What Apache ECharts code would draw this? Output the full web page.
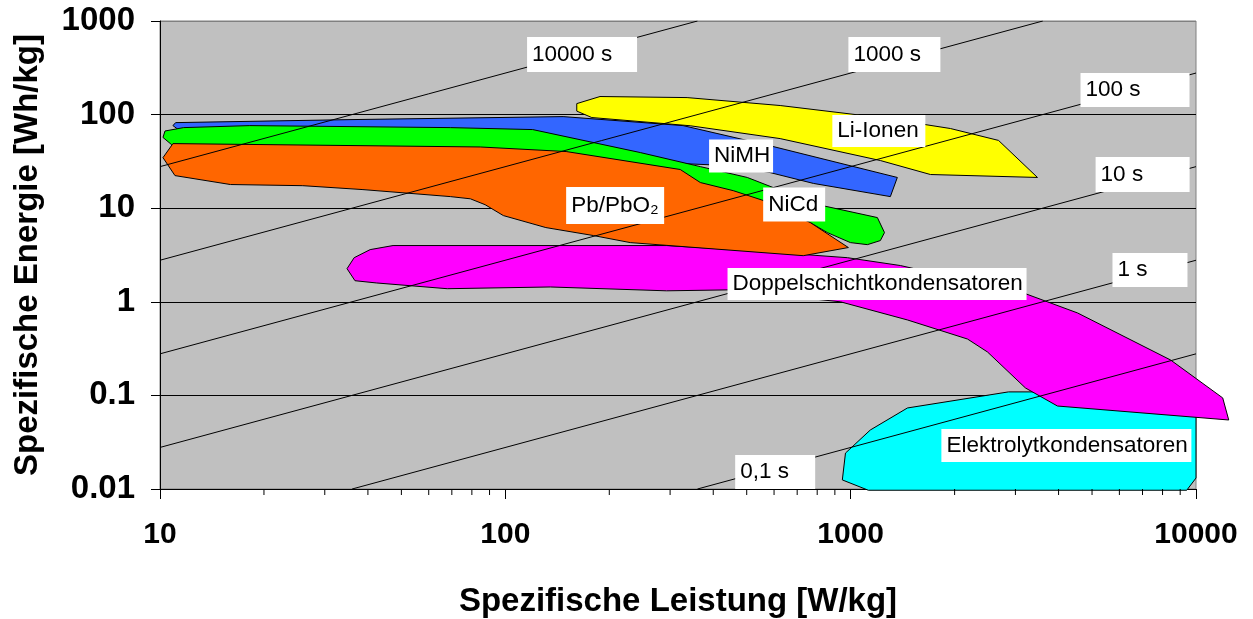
<!DOCTYPE html>
<html><head><meta charset="utf-8">
<script src="https://cdn.jsdelivr.net/npm/echarts@6/dist/echarts.min.js"></script>
<style>html,body{margin:0;padding:0;background:#fff}#c{width:1253px;height:619px}</style>
</head><body><div id="c"></div>
<script>
// ---- data ----
const xTickLabels = ['10', '100', '1000', '10000'];
const yTickLabels = ['0.01', '0.1', '1', '10', '100', '1000'];
const xMinorTicks = [20,30,40,50,60,70,80,90,200,300,400,500,600,700,800,900,2000,3000,4000,5000,6000,7000,8000,9000];

// constant discharge-time lines (endpoints)
const line10000s = [[10, 27.8], [360, 1000]];
const line1000s  = [[10, 2.78], [3600, 1000]];
const line100s   = [[10, 0.278], [10000, 278]];
const line10s    = [[10, 0.0278], [10000, 27.8]];
const line1s     = [[36, 0.01], [10000, 2.78]];
const line01s    = [[360, 0.01], [10000, 0.278]];

// regions [W/kg, Wh/kg]
const elektrolyt = [[946,0.0125],[966,0.0242],[1140,0.0427],[1460,0.0734],[2864,0.109],[3430,0.109],[4630,0.079],[10000,0.079],[10000,0.0131],[9400,0.0097],[1125,0.0097]];
const doppelschicht = [[34.8,2.26],[36.5,2.96],[40.6,3.61],[47.3,3.99],[293,3.99],[512,3.52],[978,2.96],[1393,2.44],[3208,1.22],[4540,0.76],[8440,0.239],[11950,0.094],[12440,0.0546],[3970,0.077],[3208,0.12],[2490,0.291],[2180,0.40],[1460,0.64],[934,1.0],[440,1.34],[293,1.31],[135,1.44],[67.9,1.38],[42.3,1.59],[36.7,1.68]];
const nimh = [[10.9,76.3],[11.1,82.1],[35.5,88.4],[147,95.2],[327,76.3],[585,46.4],[1365,21.3],[1303,13.3],[780,18.4],[585,24.0],[448,28.5],[321,30.0],[246,36.5],[120,65.8],[56.7,69.2],[11.4,67.5]];
const nicd = [[10.34,66.8],[11.7,72.6],[18.2,76.3],[69.3,72.6],[120,69.2],[246,39.3],[367,27.8],[502,21.3],[597,16.6],[834,10.6],[1195,7.94],[1253,5.49],[1219,4.51],[1118,4.08],[998,4.29],[856,5.49],[764,7.02],[558,10.6],[457,13.6],[367,17.0],[321,24.0],[151,36.5],[84.6,41.3],[11.05,43.3],[10.8,47.8],[10.2,57]];
const pbpbo2 = [[10.9,49],[84.6,45.1],[150,40.3],[321,25.9],[367,18.8],[457,15.4],[558,12.1],[764,7.02],[985,3.80],[729,3.11],[230,4.29],[180,5.10],[131,6.21],[98.7,8.34],[87.4,10.9],[79.2,12.6],[69.3,13.3],[38.7,15.8],[25.9,17.4],[16,17.9],[11.05,22.3],[10.2,34.7]];
const liIonen = [[161,131],[188,156],[336,152],[625,125],[1219,93],[1945,71],[2680,53],[3475,21.3],[1702,22.9],[1219,32.3],[625,55.4],[343,76],[178,93],[161,109]];

const annotationNames = ['10000 s','1000 s','100 s','10 s','1 s','0,1 s','Li-Ionen','NiMH','NiCd','Pb/PbO\u2082','Doppelschichtkondensatoren','Elektrolytkondensatoren'];
const annotationAnchors = [[115.6,438],[985,438],[4630,183],[5120,22.9],[5730,2.19],[463,0.0152],[885,66.8],[389,36.1],[558,10.95],[150,10.7],[440,1.55],[1831,0.0291]];

// ---- styles ----
const FONT = '"Liberation Sans", Arial, sans-serif';
const boxSizes = {
  '10000 s':[110,35],'1000 s':[92,35],'100 s':[109,34],'10 s':[94,35],'1 s':[75,34],'0,1 s':[80,34],
  'Li-Ionen':[93,32],'NiMH':[64,33],'NiCd':[62,34],'Pb/PbO\u2082':[98,37],
  'Doppelschichtkondensatoren':[299,32],'Elektrolytkondensatoren':[250,33]
};

function polygonSeries(name, pts, color) {
  return {
    type: 'custom', name, coordinateSystem: 'cartesian2d', clip: false, silent: true,
    data: pts,
    renderItem: (params, api) => {
      if (params.dataIndex !== 0) return;
      const points = pts.map(p => api.coord(p));
      return { type: 'polygon', shape: { points }, style: { fill: color, stroke: '#000', lineWidth: 1 } };
    }
  };
}
function timeLine(pts) {
  return { type: 'line', data: pts, symbol: 'none', silent: true, lineStyle: { color: '#000', width: 1 } };
}

const chart = echarts.init(document.getElementById('c'), null, { renderer: 'canvas' });
chart.setOption({
  animation: false,
  backgroundColor: '#fff',
  textStyle: { fontFamily: FONT },
  grid: { left: 160, right: 57, top: 21, bottom: 130, show: true, backgroundColor: '#C0C0C0',
          borderColor: '#808080', borderWidth: 1, containLabel: false, outerBoundsMode: 'none' },
  xAxis: {
    type: 'log', logBase: 10, min: 10, max: 10000,
    axisLine: { show: true, lineStyle: { color: '#000', width: 1 } },
    axisTick: { show: true, length: 10, inside: false, lineStyle: { color: '#000' } },
    axisLabel: { formatter: v => xTickLabels[Math.round(Math.log10(v)) - 1], fontSize: 30, fontWeight: 'bold',
                 color: '#000', margin: 31, fontFamily: FONT },
    splitLine: { show: false },
    name: 'Spezifische Leistung [W/kg]', nameLocation: 'middle', nameGap: 96,
    nameTextStyle: { fontSize: 33, fontWeight: 'bold', color: '#000', fontFamily: FONT }
  },
  yAxis: {
    type: 'log', logBase: 10, min: 0.01, max: 1000,
    axisLine: { show: true, lineStyle: { color: '#000', width: 1 } },
    axisTick: { show: true, length: 9, inside: false, lineStyle: { color: '#000' } },
    axisLabel: { formatter: v => yTickLabels[Math.round(Math.log10(v)) + 2], fontSize: 33, fontWeight: 'bold',
                 color: '#000', margin: 25, fontFamily: FONT },
    splitLine: { show: true, lineStyle: { color: ['#000','#000','#000','#000','#000','#808080'], width: 1 } },
    name: 'Spezifische Energie [Wh/kg]', nameLocation: 'middle', nameGap: 116, nameRotate: 90,
    nameTextStyle: { fontSize: 33, fontWeight: 'bold', color: '#000', fontFamily: FONT }
  },
  series: [
    timeLine(line10000s), timeLine(line1000s), timeLine(line100s),
    timeLine(line10s), timeLine(line1s), timeLine(line01s),
    polygonSeries('Elektrolytkondensatoren', elektrolyt, '#00FFFF'),
    polygonSeries('Doppelschichtkondensatoren', doppelschicht, '#FF00FF'),
    polygonSeries('NiMH', nimh, '#3366FF'),
    polygonSeries('NiCd', nicd, '#00FF00'),
    polygonSeries('Pb/PbO2', pbpbo2, '#FF6600'),
    polygonSeries('Li-Ionen', liIonen, '#FFFF00'),
    {
      type: 'scatter', symbolSize: 0, silent: true, z: 10,
      itemStyle: { opacity: 1 },
      emphasis: { disabled: true },
      data: annotationNames.map((n, i) => ({
        name: n, value: annotationAnchors[i],
        label: { width: boxSizes[n][0] - 5, height: boxSizes[n][1], lineHeight: boxSizes[n][1] }
      })),
      label: { show: true, position: 'right', distance: 0, formatter: '{b}', backgroundColor: '#ffffff',
               opacity: 1, padding: [0, 0, 0, 5], color: '#000', fontSize: 22.5, fontFamily: FONT,
               align: 'left', verticalAlign: 'middle', overflow: 'none' }
    },
    {
      type: 'custom', coordinateSystem: 'cartesian2d', clip: false, silent: true, z: 11,
      data: xMinorTicks.map(v => [v, 0.01]),
      renderItem: (params, api) => {
        const p = api.coord([api.value(0), api.value(1)]);
        return { type: 'line', shape: { x1: p[0], y1: p[1], x2: p[0], y2: p[1] + 6 }, style: { stroke: '#000', lineWidth: 1 } };
      }
    }
  ]
});
</script>
</body></html>
